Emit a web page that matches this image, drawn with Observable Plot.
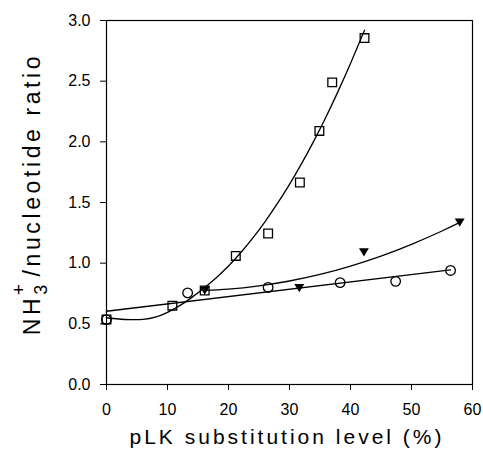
<!DOCTYPE html>
<html><head><meta charset="utf-8">
<script src="https://cdn.jsdelivr.net/npm/d3@7"></script>
<script src="https://cdn.jsdelivr.net/npm/@observablehq/plot@0.6"></script>
<style>html,body{margin:0;padding:0;background:#fff} svg{display:block}</style>
</head><body><div id="chart"></div>
<script>
// Open squares
const squareX = [0, 10.8, 16.1, 21.2, 26.5, 31.7, 34.9, 37.0, 42.3];
const squareY = [0.535, 0.65, 0.775, 1.06, 1.245, 1.665, 2.09, 2.49, 2.855];
// Open circles
const circleX = [0, 13.3, 26.5, 38.3, 47.4, 56.4];
const circleY = [0.535, 0.755, 0.80, 0.84, 0.85, 0.94];
// Filled down-triangles
const triX = [16.1, 31.6, 42.2, 57.9];
const triY = [0.78, 0.80, 1.095, 1.34];
// Fitted curve (squares)
const sqCurveX = [0, 2, 4, 6, 8, 10, 12, 14, 16, 18, 20, 22, 24, 26, 28, 30, 32, 34, 36, 38, 40, 42.3];
const sqCurveY = [0.55, 0.54, 0.535, 0.537, 0.555, 0.595, 0.65, 0.718, 0.795, 0.88, 0.976, 1.086, 1.208, 1.343, 1.49, 1.65, 1.822, 2.008, 2.207, 2.42, 2.645, 2.92];
// Fitted curve (triangles)
const triCurveX = [16, 20, 25, 30, 35, 40, 45, 50, 55, 58];
const triCurveY = [0.775, 0.786, 0.813, 0.853, 0.907, 0.976, 1.058, 1.155, 1.265, 1.338];
// Axis ticks
const xTicks = [0, 10, 20, 30, 40, 50, 60];
const yTicks = [0, 0.5, 1.0, 1.5, 2.0, 2.5, 3.0];
const xTitle = "pLK substitution level (%)";

const squares = squareX.map((x, i) => ({x, y: squareY[i]}));
const circles = circleX.map((x, i) => ({x, y: circleY[i]}));
const tris = triX.map((x, i) => ({x, y: triY[i]}));
const sqCurve = sqCurveX.map((x, i) => ({x, y: sqCurveY[i]}));
const triCurve = triCurveX.map((x, i) => ({x, y: triCurveY[i]}));

const downTriangle = {
  draw(context, size) {
    const r = Math.sqrt(size / Math.PI);
    context.moveTo(-0.95 * r, -0.65 * r);
    context.lineTo(0.95 * r, -0.65 * r);
    context.lineTo(0, 0.95 * r);
    context.closePath();
  }
};

const font = "'Liberation Sans', Arial, Helvetica, sans-serif";

const chart = Plot.plot({
  width: 483,
  height: 455,
  marginLeft: 106,
  marginRight: 11,
  marginTop: 20,
  marginBottom: 71,
  style: {fontFamily: font, fontSize: "16px", color: "black", background: "white", overflow: "visible"},
  x: {domain: [0, 60], ticks: xTicks, tickSize: 6, tickPadding: 13, label: null, tickFormat: d3.format("d")},
  y: {domain: [0, 3], ticks: yTicks, tickSize: 6, tickPadding: 10, label: null, tickFormat: d3.format(".1f")},
  marks: [
    Plot.frame({stroke: "black", strokeWidth: 1.2}),
    Plot.line(sqCurve, {x: "x", y: "y", curve: "natural", stroke: "black", strokeWidth: 1.3}),
    Plot.line(triCurve, {x: "x", y: "y", curve: "natural", stroke: "black", strokeWidth: 1.3}),
    Plot.linearRegressionY(circles, {x: "x", y: "y", ci: 0, stroke: "black", strokeWidth: 1.3}),
    Plot.dot(squares, {x: "x", y: "y", symbol: "square", r: 4.9, stroke: "black", fill: "none", strokeWidth: 1.3}),
    Plot.dot(circles, {x: "x", y: "y", symbol: "circle", r: 4.8, stroke: "black", fill: "none", strokeWidth: 1.3}),
    Plot.dot(tris, {x: "x", y: "y", symbol: downTriangle, r: 5.2, fill: "black", stroke: "none"})
  ]
});

const svg = d3.select(chart);

// x axis title
svg.append("text")
  .attr("x", 287)
  .attr("y", 444)
  .attr("text-anchor", "middle")
  .style("font-family", font)
  .style("font-size", "21px")
  .style("letter-spacing", "3px")
  .attr("fill", "black")
  .text(xTitle);

// y axis title with subscript/superscript
const yl = svg.append("text")
  .attr("transform", "translate(40,194) rotate(-90)")
  .attr("text-anchor", "middle")
  .style("font-family", font)
  .style("font-size", "23px")
  .style("letter-spacing", "3.6px")
  .attr("fill", "black");
yl.append("tspan").text("NH");
yl.append("tspan").attr("dy", 7).style("font-size", "18px").text("3");
yl.append("tspan").attr("dx", -14).attr("dy", -22).style("font-size", "19px").text("+");
yl.append("tspan").attr("dx", 4).attr("dy", 15).text("/nucleotide ratio");

document.getElementById("chart").appendChild(chart);
</script>
</body></html>
